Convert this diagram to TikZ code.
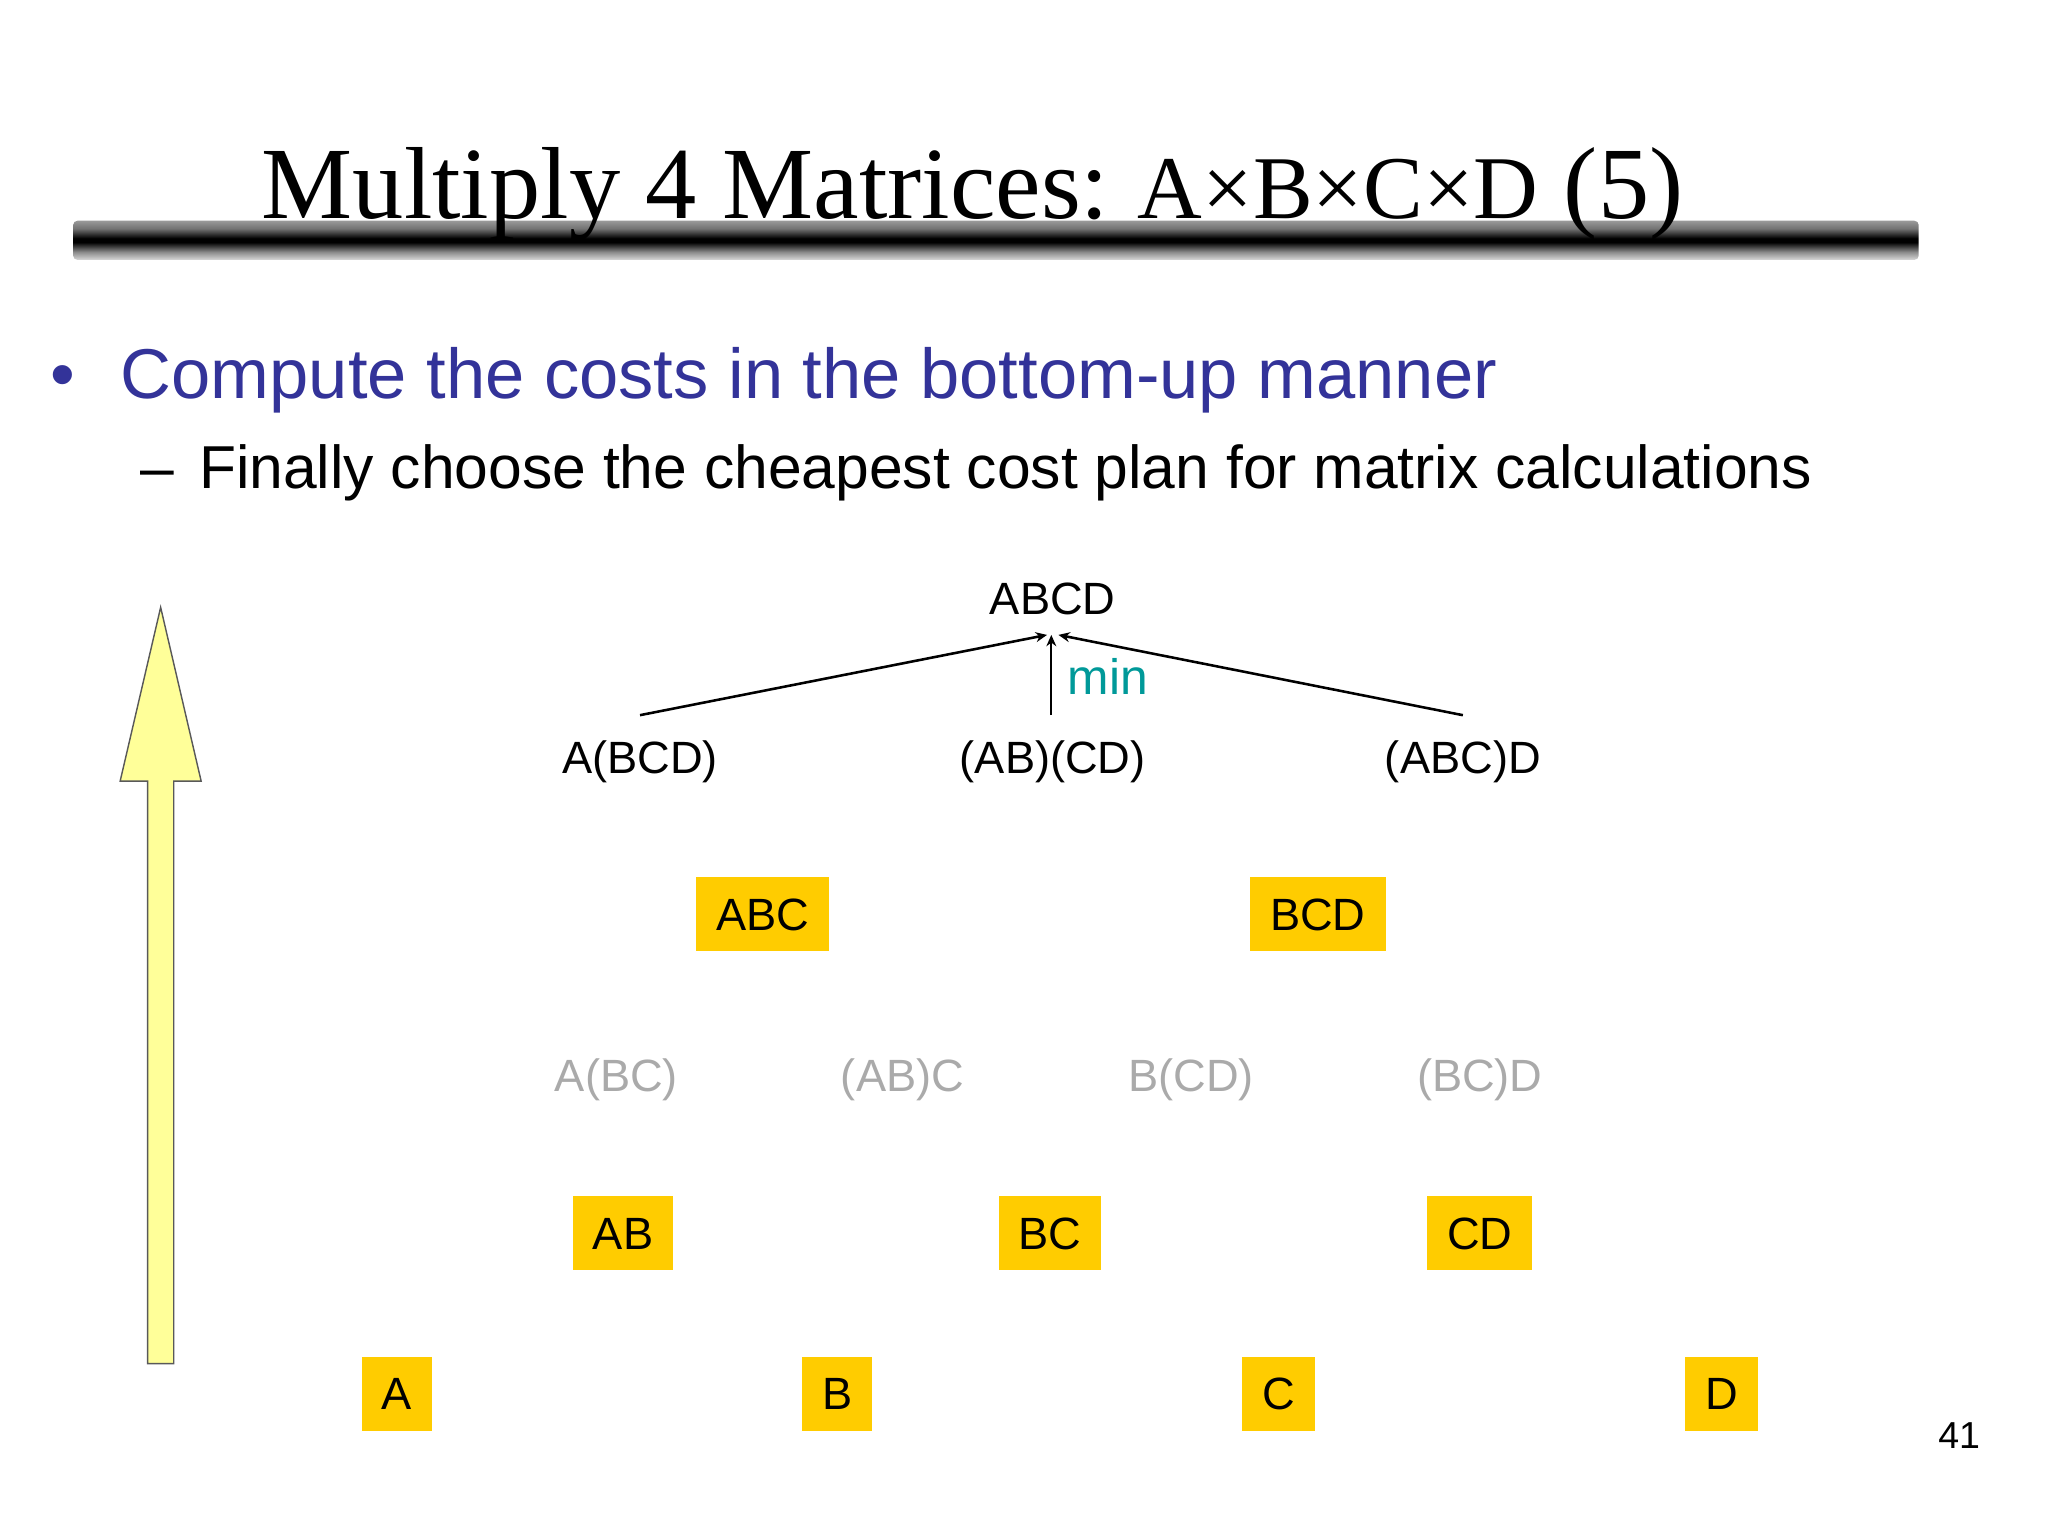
\documentclass[tikz,border=0pt]{standalone}
\usepackage{fontspec}
\setmainfont{Liberation Sans}
\newfontfamily\titlefont{Liberation Serif}
\usetikzlibrary{arrows.meta}
\definecolor{bulletblue}{HTML}{333399}
\definecolor{boxyellow}{HTML}{FFCC00}
\definecolor{lightyellow}{HTML}{FFFF99}
\definecolor{tealmin}{HTML}{009999}
\definecolor{fadedgray}{HTML}{AAAAAA}
\pgfdeclareverticalshading{barshade}{100bp}{color(0bp)=(black!15); color(25bp)=(black!15); color(35bp)=(black!45); color(47.5bp)=(black); color(52.5bp)=(black); color(65bp)=(black!55); color(75bp)=(black!40); color(100bp)=(black!40)}
\tikzset{
  lbl/.style={inner sep=0pt, font=\fontsize{15.9}{18}\selectfont, text height=11.4pt, text depth=0pt, anchor=center},
  mat/.style={lbl, fill=boxyellow, inner xsep=7pt, minimum height=26pt},
  faded/.style={lbl, text=fadedgray},
  link/.style={line width=0.9pt, -{Stealth[length=4pt,width=3.5pt]}},
  thinlink/.style={line width=0.6pt, -{Stealth[length=4pt,width=3.5pt]}}
}
\begin{document}
\begin{tikzpicture}[x=0.45918pt, y=-0.45918pt]
\useasboundingbox (0,0) rectangle (1568,1176);
% title bar
\shade[shading=barshade, rounded corners=1.5pt] (56,169) rectangle (1469,199);
\node[anchor=base west, inner sep=0pt] (title) at (200,167)
  {\titlefont\fontsize{36}{40}\selectfont Multiply 4 Matrices:\hspace{-2pt} {\fontsize{31.5}{36}\selectfont A×B×C×D} (5)};
% bullets
\node[anchor=base west, inner sep=0pt, text=bulletblue] (b1) at (38,305)
  {\fontsize{24.8}{28}\selectfont •};
\node[anchor=base west, inner sep=0pt, text=bulletblue] (t1) at (92,305)
  {\fontsize{24.8}{28}\selectfont Compute the costs in the bottom-up manner};
\node[anchor=base west, inner sep=0pt] (b2) at (107,374)
  {\fontsize{21.3}{24}\selectfont –};
\node[anchor=base west, inner sep=0pt] (t2) at (152,374)
  {\fontsize{21.3}{24}\selectfont Finally choose the cheapest cost plan for matrix calculations};
% big yellow arrow
\draw[fill=lightyellow, draw=black!65, line width=0.5pt]
  (113,1044) -- (113,598) -- (92,598) -- (123,465) -- (154,598) -- (133,598) -- (133,1044) -- cycle;
% tree top
\node[lbl] (top) at (806,458) {ABCD};
\node[lbl] (p1) at (490,580) {A(BCD)};
\node[lbl] (p2) at (806,580) {(AB)(CD)};
\node[lbl] (p3) at (1120,580) {(ABC)D};
\node[lbl, text=tealmin, anchor=west, font=\fontsize{17.5}{20}\selectfont, text height=12.5pt] (min) at (817,518) {min};
\draw[link] ([yshift=9pt]p1.north) -- ([shift={(-2pt,-7pt)}]top.south);
\draw[thinlink] ([shift={(-0.5pt,9pt)}]p2.north) -- ([shift={(-0.5pt,-7pt)}]top.south);
\draw[link] ([yshift=9pt]p3.north) -- ([shift={(2pt,-7pt)}]top.south);
% level 3
\node[mat] (abc) at (584,700) {ABC};
\node[mat] (bcd) at (1009,700) {BCD};
% faded options
\node[faded] (o1) at (472,823) {A(BC)};
\node[faded] (o2) at (691,823) {(AB)C};
\node[faded] (o3) at (912,823) {B(CD)};
\node[faded] (o4) at (1133,823) {(BC)D};
% level 2
\node[mat] (ab) at (477,944) {AB};
\node[mat] (bc) at (804,944) {BC};
\node[mat] (cd) at (1133,944) {CD};
% level 1
\node[mat] (a) at (304,1067) {A};
\node[mat] (b) at (641,1067) {B};
\node[mat] (c) at (979,1067) {C};
\node[mat] (d) at (1318,1067) {D};
% page number
\node[anchor=base, inner sep=0pt] (page) at (1500,1109) {\fontsize{13.2}{15}\selectfont 41};
\end{tikzpicture}
\end{document}
